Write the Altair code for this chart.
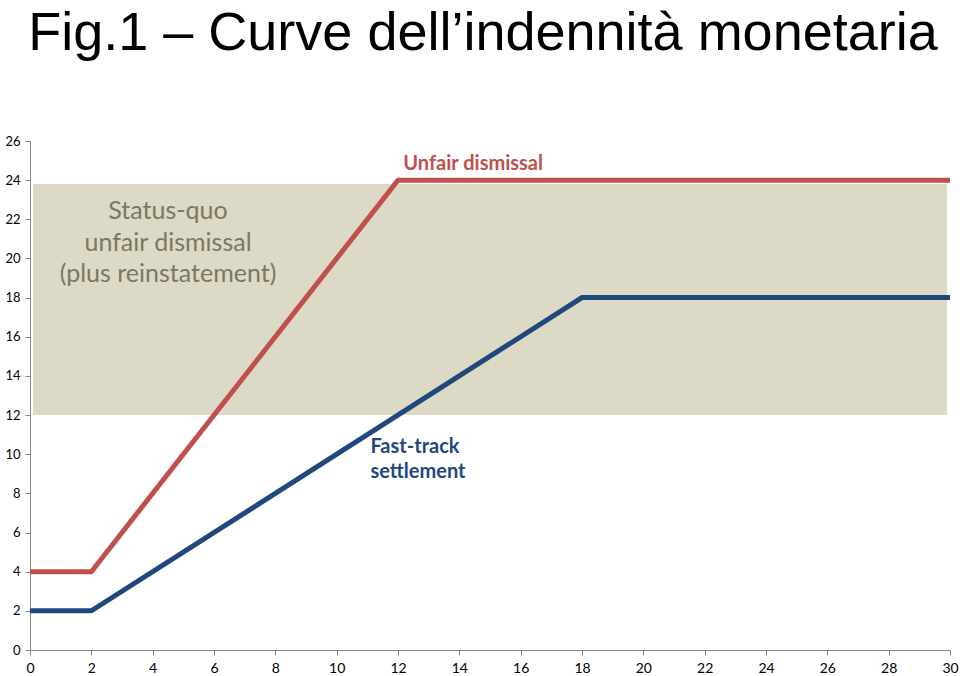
import altair as alt
import pandas as pd

# Data
x_unfair = [0, 2, 12, 30]
y_unfair = [4, 4, 24, 24]
x_fast = [0, 2, 18, 30]
y_fast = [2, 2, 18, 18]

band_x = [0.1]
band_x2 = [29.9]
band_y = [12]
band_y2 = [23.8]

x_ticks = list(range(0, 31, 2))
y_ticks = list(range(0, 27, 2))

RED = "#c0504d"
BLUE = "#1f497d"

lines_df = pd.DataFrame(
    {"x": x_unfair + x_fast,
     "y": y_unfair + y_fast,
     "series": ["Unfair dismissal"] * len(x_unfair) + ["Fast-track settlement"] * len(x_fast)}
)
band_df = pd.DataFrame({"x": band_x, "x2": band_x2, "y": band_y, "y2": band_y2})

xs = alt.Scale(domain=[0, 30], nice=False, zero=False)
ys = alt.Scale(domain=[0, 26], nice=False, zero=False)

x_axis = alt.Axis(values=x_ticks, title=None, grid=False, domainColor="#868686",
                  tickColor="#868686", tickSize=5, labelFontSize=14, labelFont="Lato",
                  labelColor="black", labelPadding=6, labelFlush=False, labelOverlap=False)
y_axis = alt.Axis(values=y_ticks, title=None, grid=False, domainColor="#868686",
                  tickColor="#868686", tickSize=5, labelFontSize=13, labelFont="Lato",
                  labelColor="black", labelPadding=5, labelOverlap=False)


def X(field):
    return alt.X(field, scale=xs, axis=x_axis)


def Y(field):
    return alt.Y(field, scale=ys, axis=y_axis)


band = alt.Chart(band_df).mark_rect(color="#dcd9c6").encode(
    x=X("x:Q"), x2="x2:Q", y=Y("y:Q"), y2="y2:Q",
)

lines = alt.Chart(lines_df).mark_line(strokeWidth=5, strokeJoin="miter").encode(
    x=X("x:Q"),
    y=Y("y:Q"),
    color=alt.Color("series:N",
                    scale=alt.Scale(domain=["Unfair dismissal", "Fast-track settlement"],
                                    range=[RED, BLUE]),
                    legend=None),
)

ann_status = pd.DataFrame({"x": [4.5], "y": [22.4],
                           "t": ["Status-quo\nunfair dismissal\n(plus reinstatement)"]})
ann_unfair = pd.DataFrame({"x": [14.45], "y": [24.8], "t": ["Unfair dismissal"]})
ann_fast = pd.DataFrame({"x": [11.1], "y": [10.35], "t": ["Fast-track\nsettlement"]})

t_status = alt.Chart(ann_status).mark_text(
    font="Lato", fontSize=25, color="#7d775f", lineBreak="\n", lineHeight=31.5,
    align="center", baseline="middle").encode(
    x=X("x:Q"), y=Y("y:Q"), text="t:N")

t_unfair = alt.Chart(ann_unfair).mark_text(
    font="Lato", fontSize=20, fontWeight="bold", color=RED,
    align="center", baseline="middle").encode(
    x=X("x:Q"), y=Y("y:Q"), text="t:N")

t_fast = alt.Chart(ann_fast).mark_text(
    font="Lato", fontSize=20, fontWeight="bold", color=BLUE, lineBreak="\n",
    lineHeight=25, align="left", baseline="middle").encode(
    x=X("x:Q"), y=Y("y:Q"), text="t:N")

chart = alt.layer(band, lines, t_status, t_unfair, t_fast).properties(
    width=920, height=509,
    autosize=alt.AutoSizeParams(type="none"),
    padding={"left": 30, "top": 141, "right": 10, "bottom": 26},
    title=alt.TitleParams("Fig.1 – Curve dell’indennità monetaria",
                          font="Liberation Sans",
                          fontSize=54, fontWeight="normal", color="black",
                          anchor="middle", offset=74, dx=-7),
).configure_view(stroke=None)

chart.save("out.html", embed_options={"renderer": "svg", "actions": False})
